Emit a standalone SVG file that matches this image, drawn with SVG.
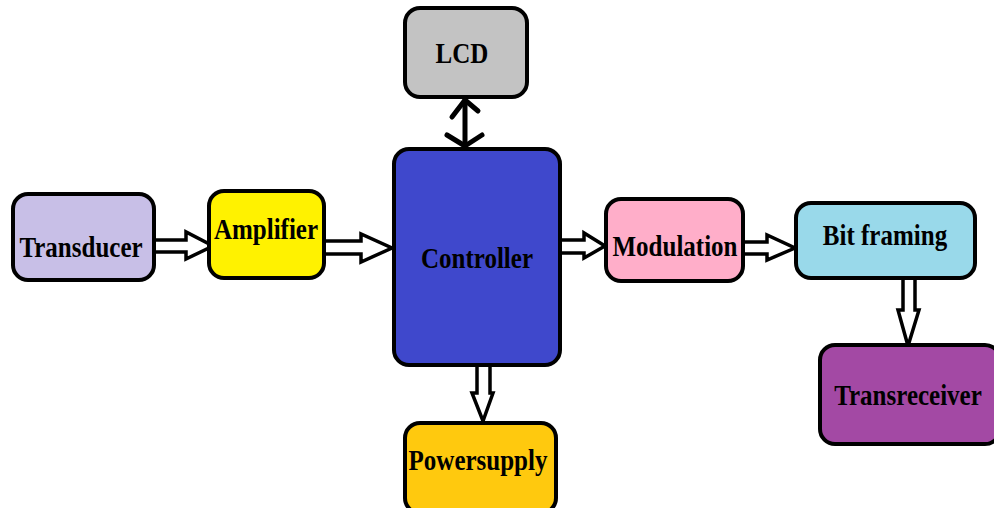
<svg xmlns="http://www.w3.org/2000/svg" width="994" height="508" viewBox="0 0 994 508">
<style>
.box{stroke:#000;stroke-width:4}
.lbl{font-family:"Liberation Serif","Times New Roman",serif;font-weight:bold;font-size:25px;fill:#000;text-anchor:middle}
.arr{fill:#fff;stroke:#000;stroke-width:3.5;stroke-linejoin:miter}
.line{fill:none;stroke:#000;stroke-width:5;stroke-linecap:round;stroke-linejoin:round}
</style>
<rect width="994" height="508" fill="#fff"/>
<g id="connectors">
<path class="arr" d="M155,240 H186 V232 L213,246 L186,259 V252 H155"/>
<path class="arr" d="M325,241 H361 V234 L392,248 L361,262 V254 H325"/>
<path class="arr" d="M561,240 H584 V233 L605,246 L584,258 V253 H561"/>
<path class="arr" d="M743,242 H767 V235 L795,248 L767,260 V254 H743"/>
<path class="arr" d="M903,278 V310 H898 L908,346 L919,310 H915 V278"/>
<path class="arr" d="M477,366 V393 H472 L483,421 L493,393 H490 V366"/>
<line class="line" x1="465" y1="100" x2="465" y2="146"/>
<polyline class="line" points="452,117 465,100 478,111"/>
<polyline class="line" points="447,135 465,146 482,135"/>
</g>
<g id="lcd"><rect class="box" x="405" y="8" width="122" height="89" rx="15" fill="#c3c3c3"/><text class="lbl" transform="translate(462,63) scale(1,1.15)">LCD</text></g>
<g id="controller"><rect class="box" x="394" y="149" width="166" height="216" rx="15" fill="#3f48cc"/><text class="lbl" transform="translate(477,268) scale(1,1.15)">Controller</text></g>
<g id="transducer"><rect class="box" x="13" y="194" width="141" height="86" rx="15" fill="#c8bfe7"/><text class="lbl" transform="translate(81,257) scale(1,1.15)">Transducer</text></g>
<g id="amplifier"><rect class="box" x="209" y="191" width="115" height="87" rx="15" fill="#fff200"/><text class="lbl" transform="translate(266,239) scale(1,1.15)">Amplifier</text></g>
<g id="modulation"><rect class="box" x="606" y="199" width="137" height="82" rx="15" fill="#ffaec9"/><text class="lbl" transform="translate(675,256) scale(1,1.15)">Modulation</text></g>
<g id="bitframing"><rect class="box" x="796" y="203" width="179" height="75" rx="15" fill="#99d9ea"/><text class="lbl" transform="translate(885,245) scale(1,1.15)">Bit framing</text></g>
<g id="transreceiver"><rect class="box" x="820" y="345" width="180" height="99" rx="15" fill="#a349a4"/><text class="lbl" transform="translate(908,405) scale(1,1.15)">Transreceiver</text></g>
<g id="powersupply"><rect class="box" x="405" y="423" width="151" height="90" rx="15" fill="#ffc90e"/><text class="lbl" transform="translate(478,470) scale(1,1.15)">Powersupply</text></g>
</svg>
